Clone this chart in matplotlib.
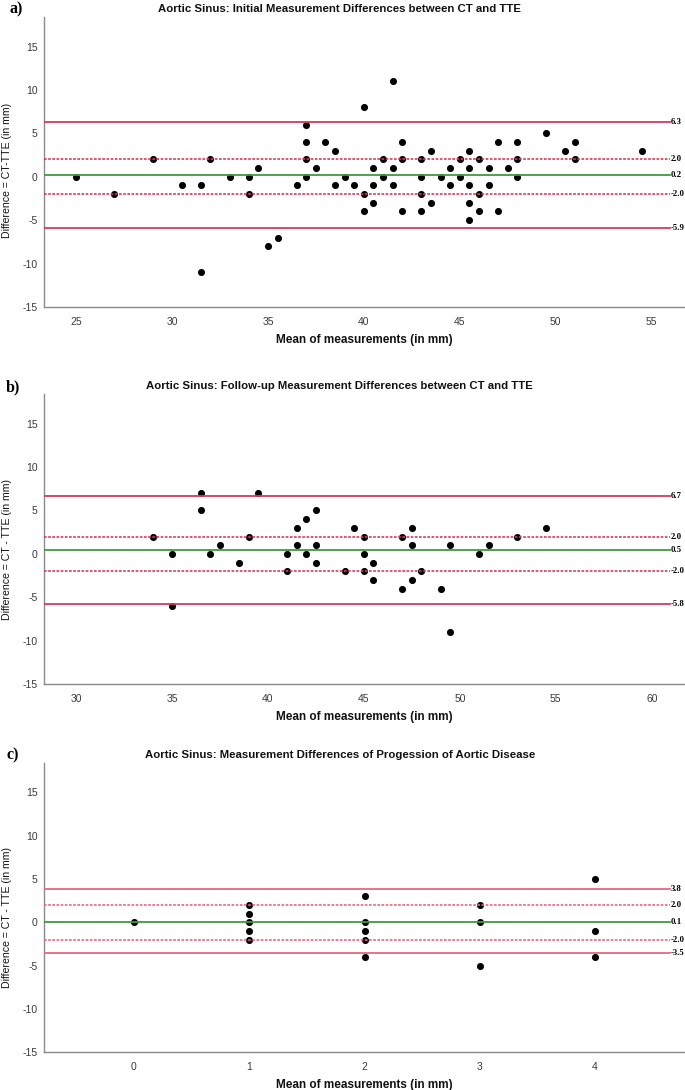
import numpy as np
import matplotlib
matplotlib.use('Agg')
import matplotlib.pyplot as plt

# panel a: initial measurements
a_mean = [25, 27, 29, 30.5, 31.5, 31.5, 32, 33, 34, 34, 34.5, 35, 35.5, 36.5,
          37, 37, 37, 37, 37.5, 38, 38.5, 38.5, 39, 39.5, 40, 40, 40,
          40.5, 40.5, 40.5, 41, 41, 41.5, 41.5, 41.5, 42, 42, 42,
          43, 43, 43, 43, 43.5, 43.5, 44, 44.5, 44.5, 45, 45,
          45.5, 45.5, 45.5, 45.5, 45.5, 46, 46, 46, 46.5, 46.5, 47, 47,
          47.5, 48, 48, 48, 49.5, 50.5, 51, 51, 54.5]
a_diff = [0, -2, 2, -1, -1, -11, 2, 0, 0, -2, 1, -8, -7, -1,
          6, 4, 2, 0, 1, 4, 3, -1, 0, -1, 8, -2, -4,
          1, -1, -3, 2, 0, 11, 1, -1, 4, 2, -4,
          2, 0, -2, -4, 3, -3, 0, 1, -1, 2, 0,
          3, 1, -1, -3, -5, 2, -2, -4, 1, -1, 4, -4,
          1, 4, 2, 0, 5, 3, 4, 2, 3]
a_lines = [6.3, 2.0, 0.2, -2.0, -5.9]

# panel b: follow-up measurements
b_mean = [34, 35, 35, 36.5, 36.5, 37, 37.5, 38.5, 39, 39.5, 41, 41,
          41.5, 41.5, 42, 42, 42.5, 42.5, 42.5, 44, 44.5, 45, 45, 45,
          45.5, 45.5, 47, 47, 47.5, 47.5, 47.5, 48, 49, 49.5, 49.5,
          51, 51.5, 53, 54.5]
b_diff = [2, 0, -6, 7, 5, 0, 1, -1, 2, 7, 0, -2,
          3, 1, 4, 0, 5, 1, -1, -2, 3, 2, 0, -2,
          -1, -3, 2, -4, 3, 1, -3, -2, -4, 1, -9,
          0, 1, 2, 3]
b_lines = [6.7, 2.0, 0.5, -2.0, -5.8]

# panel c: progression of aortic disease
c_mean = [0, 1, 1, 1, 1, 1, 2, 2, 2, 2, 2, 3, 3, 3, 4, 4, 4]
c_diff = [0, 2, 1, 0, -1, -2, 3, 0, -1, -2, -4, 2, 0, -5, 5, -1, -4]
c_lines = [3.8, 2.0, 0.1, -2.0, -3.5]

titles = ['Aortic Sinus: Initial Measurement Differences between CT and TTE',
          'Aortic Sinus: Follow-up Measurement Differences between CT and TTE',
          'Aortic Sinus: Measurement Differences of Progession of Aortic Disease']
ylabels = ['Difference = CT-TTE (in mm)',
           'Difference = CT - TTE (in mm)',
           'Difference = CT - TTE (in mm)']
panel_tags = ['a)', 'b)', 'c)']
xticks_all = [[25, 30, 35, 40, 45, 50, 55],
              [30, 35, 40, 45, 50, 55, 60],
              [0, 1, 2, 3, 4]]
yticks = [-15, -10, -5, 0, 5, 10, 15]

plt.rcParams['font.family'] = ['Liberation Sans', 'DejaVu Sans']
plt.rcParams['axes.unicode_minus'] = False

W, H = 685, 1090
fig = plt.figure(figsize=(W / 100, H / 100), dpi=100)

# pixel geometry of each panel: (top, bottom) of plot area
tops = [17, 394, 763]
bots = [307, 684.3, 1052.3]
xlims = [(23.35, 56.73), (28.35, 61.73), (-0.778, 4.78)]
title_y = [9, 386, 755]
tag_y = [9, 387, 755]
tag_x = [9, 6, 6]
ylab_y = [170, 550, 917]

red = '#d7395f'
red_c = '#e5677f'
green = '#3f9a3f'

data = [(a_mean, a_diff, a_lines), (b_mean, b_diff, b_lines), (c_mean, c_diff, c_lines)]
left = 44.3

for i, (xm, yd, lines) in enumerate(data):
    ax = fig.add_axes([left / W, 1 - bots[i] / H, (W - left) / W, (bots[i] - tops[i]) / H])
    ax.scatter(xm, yd, s=26, color='black', zorder=2, linewidths=0)

    rc = red_c if i == 2 else red
    xend = 0.9766
    ax.axhline(lines[0], xmax=xend, color=rc, lw=1.3, zorder=3)
    ax.axhline(lines[4], xmax=xend, color=rc, lw=1.3, zorder=3)
    ax.axhline(lines[1], xmax=xend, color=rc, lw=1.2, ls=(0, (1.6, 0.9)), zorder=3)
    ax.axhline(lines[3], xmax=xend, color=rc, lw=1.2, ls=(0, (1.6, 0.9)), zorder=3)
    ax.axhline(lines[2], xmax=xend, color=green, lw=1.3, zorder=3)
    for v in lines:
        ax.text(0.978, v, f'{v:.1f}', transform=ax.get_yaxis_transform(),
                ha='left', va='center', fontsize=6.3, fontweight='bold',
                family='Liberation Serif', color='black')

    ax.set_xlim(*xlims[i])
    ax.set_ylim(-15, 18.4)
    ax.set_xticks(xticks_all[i])
    ax.set_yticks(yticks)
    ax.tick_params(length=0, labelsize=7.5, labelcolor='#3a3a3a')
    ax.tick_params(axis='x', pad=7)
    ax.tick_params(axis='y', pad=5)
    for s in ['top', 'right']:
        ax.spines[s].set_visible(False)
    for s in ['left', 'bottom']:
        ax.spines[s].set_color('#8a8a8a')
        ax.spines[s].set_linewidth(1.0)
    ax.set_xlabel('Mean of measurements (in mm)', fontsize=8.5, fontweight='bold',
                  labelpad=5, color='#111111')

    fig.text(0.496, 1 - title_y[i] / H, titles[i], ha='center', va='center',
             fontsize=8.2, fontweight='bold', color='#111111')
    fig.text(tag_x[i] / W, 1 - tag_y[i] / H, panel_tags[i], ha='left', va='center',
             fontsize=11.5, fontweight='bold', family='Liberation Serif')
    fig.text(7.5 / W, 1 - ylab_y[i] / H, ylabels[i], ha='center', va='center',
             rotation=90, fontsize=7.6, color='#111111')

fig.savefig('out.png', dpi=100)
